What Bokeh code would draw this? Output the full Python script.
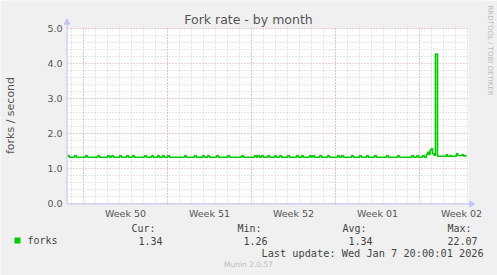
import math
from bokeh.plotting import figure
from bokeh.models import Range1d
from bokeh.core.properties import value
from bokeh.embed import file_html
from bokeh.resources import INLINE

# ---- data (x in days from Monday of ISO week 50, 2025) ----
week_labels = ["Week 50", "Week 51", "Week 52", "Week 01", "Week 02"]
week_label_pos = [3.5, 10.5, 17.5, 24.5, 31.5]
week_starts = [0, 7, 14, 21, 28]
day_lines = list(range(-1, 33))
y_ticks = [0, 1, 2, 3, 4, 5]
y_tick_labels = ["0.0", "1.0", "2.0", "3.0", "4.0", "5.0"]
y_minor = [0.2, 0.4, 0.6, 0.8, 1.2, 1.4, 1.6, 1.8, 2.2, 2.4, 2.6, 2.8,
           3.2, 3.4, 3.6, 3.8, 4.2, 4.4, 4.6, 4.8]

t = [-1.33, -1.17, -0.75, -0.58, 0.17, 0.33, 1.17, 1.33, 2.0, 2.17, 2.33, 2.5,
     3.0, 3.17, 3.58, 3.75, 4.08, 4.25, 5.08, 5.25, 5.67, 5.83, 6.17, 6.33,
     6.58, 6.75, 7.0, 7.17, 8.42, 8.58, 9.25, 9.42, 9.92, 10.08, 10.33, 10.5,
     11.08, 11.25, 12.0, 12.17, 13.17, 13.33, 14.25, 14.42, 14.5, 14.67,
     14.83, 15.0, 15.33, 15.5, 15.92, 16.08, 16.33, 16.5, 17.0, 17.17,
     17.75, 17.92, 18.17, 18.33, 18.83, 19.0, 19.08, 19.25, 19.67, 19.83,
     20.33, 20.5, 21.17, 21.33, 21.5, 21.67, 22.33, 22.5, 23.0, 23.17,
     23.58, 23.75, 24.25, 24.42, 25.25, 25.42, 26.17, 26.33, 27.33, 27.5,
     27.75, 27.92, 28.25, 28.42,
     28.58, 28.67, 28.79, 28.88, 28.96, 29.08, 29.21, 29.33, 29.5,
     30.25, 30.33, 30.58, 30.67, 31.08, 31.17, 31.29, 31.58, 31.67, 31.92]
v = [1.36, 1.32, 1.36, 1.32, 1.36, 1.32, 1.36, 1.32, 1.36, 1.32, 1.36, 1.32,
     1.36, 1.32, 1.36, 1.32, 1.36, 1.32, 1.36, 1.32, 1.36, 1.32, 1.36, 1.32,
     1.36, 1.32, 1.36, 1.32, 1.36, 1.32, 1.36, 1.32, 1.36, 1.32, 1.36, 1.32,
     1.36, 1.32, 1.36, 1.32, 1.36, 1.32, 1.36, 1.32, 1.36, 1.32,
     1.36, 1.32, 1.36, 1.32, 1.36, 1.32, 1.36, 1.32, 1.36, 1.32,
     1.36, 1.32, 1.36, 1.32, 1.36, 1.32, 1.36, 1.32, 1.36, 1.32,
     1.36, 1.32, 1.36, 1.32, 1.36, 1.32, 1.36, 1.32, 1.36, 1.32,
     1.36, 1.32, 1.36, 1.32, 1.36, 1.32, 1.36, 1.32, 1.36, 1.32,
     1.36, 1.32, 1.36, 1.32,
     1.40, 1.46, 1.40, 1.52, 1.56, 1.42, 1.38, 4.27, 1.35,
     1.40, 1.35, 1.37, 1.35, 1.43, 1.38, 1.37, 1.40, 1.36, 1.36]

title_text = "Fork rate - by month"
y_title = "forks / second"
series_name = "forks"
stat_heads = ["Cur:", "Min:", "Avg:", "Max:"]
stat_vals = ["1.34", "1.26", "1.34", "22.07"]
last_update = "Last update: Wed Jan  7 20:00:01 2026"
footer = "Munin 2.0.57"
side_text = "RRDTOOL / TOBI OETIKER"

# ---- geometry (canvas pixels) ----
W, H = 497, 275
FL, FR, FT, FB = 67, 468, 28, 203          # plot area edges
X0, X1 = -1.333, 32.083                    # visible time span (days)
Y0, Y1 = 0.0, 5.0                          # visible value span

# one frame that covers the whole canvas; default ranges are canvas px (y up)
p = figure(width=W, height=H, output_backend="svg", toolbar_location=None,
           x_range=Range1d(0, W), y_range=Range1d(0, H),
           x_axis_type=None, y_axis_type=None, min_border=0)
p.grid.visible = False
p.outline_line_color = None
p.background_fill_color = "#F0F0F0"
p.border_fill_color = "#F0F0F0"

# data scales mapped so that the chart's span lands on the plot area
kx = (X1 - X0) / (FR - FL)
ky = (Y1 - Y0) / (FB - FT)
p.extra_x_ranges = {"days": Range1d(X0 - FL * kx, X1 + (W - FR) * kx)}
p.extra_y_ranges = {"val": Range1d(Y0 - (H - FB) * ky, Y1 + FT * ky)}
D = dict(x_range_name="days", y_range_name="val")

def cy(y):  # canvas y (top-down) -> px range (bottom-up)
    return H - y

# plot area
p.quad(left=X0, right=X1, bottom=Y0, top=Y1, fill_color="white", line_color=None, **D)

# grid
minor_col, major_col = "#CFCFCF", "#E5A0A0"
p.segment(x0=day_lines, y0=[Y0] * len(day_lines), x1=day_lines, y1=[Y1] * len(day_lines),
          line_color=minor_col, line_dash="1 2", line_width=1, **D)
p.segment(x0=[X0] * len(y_minor), y0=y_minor, x1=[X1] * len(y_minor), y1=y_minor,
          line_color=minor_col, line_dash="1 2", line_width=1, **D)
p.segment(x0=week_starts, y0=[Y0] * len(week_starts), x1=week_starts, y1=[Y1] * len(week_starts),
          line_color=major_col, line_dash="1 2", line_width=1, **D)
p.segment(x0=[X0] * len(y_ticks), y0=y_ticks, x1=[X1] * len(y_ticks), y1=y_ticks,
          line_color=major_col, line_dash="1 2", line_width=1, **D)

# data line
p.step(t, v, mode="after", line_color="#00CC00", line_width=1.6, **D)

# axis lines with arrow heads
ax_col = "#C4C4F4"
p.segment(x0=[FL - 0.5, FL - 0.5], y0=[cy(FB + 0.5), cy(FB + 0.5)],
          x1=[FL - 0.5, 471], y1=[cy(23), cy(FB + 0.5)], line_color=ax_col, line_width=1)
p.scatter(x=[FL - 0.5], y=[cy(22)], marker="triangle", size=6,
          fill_color=ax_col, line_color=ax_col)
p.scatter(x=[471], y=[cy(FB + 0.5)], marker="triangle", size=6, angle=-math.pi / 2,
          fill_color=ax_col, line_color=ax_col)

# tick labels (placed through the data scales)
tick_font = value("DejaVu Sans")
p.text(x=[FL - 5] * len(y_ticks), y=y_ticks, text=y_tick_labels, y_range_name="val",
       text_font=tick_font, text_font_size=value("9.5px"), text_color="#555555",
       text_align="right", text_baseline="middle")
p.text(x=week_label_pos, y=[Y0] * len(week_label_pos), text=week_labels, x_range_name="days",
       y_range_name="val", y_offset=10, text_font=tick_font, text_font_size=value("9.5px"),
       text_color="#555555", text_align="center", text_baseline="middle")

def txt(s, x, y, size, font="DejaVu Sans", color="#444444", align="left", angle=0.0):
    p.text(x=[x], y=[cy(y)], text=[s], text_font=value(font), text_font_size=value(size),
           text_color=color, text_align=align, text_baseline="middle", angle=angle)

txt(title_text, 248, 19, "12.5px", color="#555555", align="center")
txt(y_title, 10, 115, "11px", color="#555555", align="center", angle=math.pi / 2)
txt(side_text, 489, 5, "7px", color="#BBBBBB", align="left", angle=-math.pi / 2)

mono = "DejaVu Sans Mono"
p.quad(left=[14], right=[20], top=[cy(237)], bottom=[cy(243)],
       fill_color="#00CC00", line_color=None)
txt(series_name, 27, 240, "10px", font=mono)
head_x = [131, 237, 342, 447]
val_x = [138, 243, 348, 447]
for hx, vx, hname, val in zip(head_x, val_x, stat_heads, stat_vals):
    txt(hname, hx, 228, "10px", font=mono)
    txt(val, vx, 240, "10px", font=mono)
txt(last_update, 261, 252, "10.25px", font=mono)
txt(footer, 248, 264, "7.5px", color="#BBBBBB", align="center")

open("out.html", "w").write(file_html(p, INLINE))
